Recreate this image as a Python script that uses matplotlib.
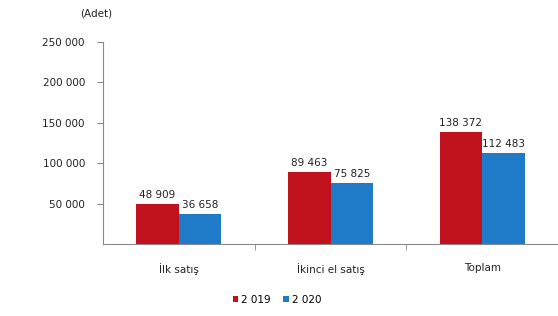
import numpy as np
import matplotlib.pyplot as plt
from matplotlib.ticker import FuncFormatter
from matplotlib.transforms import offset_copy

# Data
categories = ['İlk satış', 'İkinci el satış', 'Toplam']
years = ['2 019', '2 020']
sales_2019 = [48909, 89463, 138372]
sales_2020 = [36658, 75825, 112483]
yticks = [50000, 100000, 150000, 200000, 250000]

red = '#C0121C'
blue = '#1F7BC8'

W, H = 558, 316
fig = plt.figure(figsize=(W/100, H/100), dpi=100)
ax = fig.add_axes([103/W, 1 - 244/H, (W-103)/W, (244-42)/H])

x = np.arange(len(categories))
w = 0.28
b1 = ax.bar(x - w/2, sales_2019, w, color=red, label=years[0])
b2 = ax.bar(x + w/2, sales_2020, w, color=blue, label=years[1])

def fmt(v):
    return f'{int(v):,}'.replace(',', ' ')

lab_tr = offset_copy(ax.transData, fig=fig, x=0, y=3, units='points')
for bars, vals in [(b1, sales_2019), (b2, sales_2020)]:
    for r, v in zip(bars, vals):
        ax.text(r.get_x() + r.get_width()/2, v, fmt(v), transform=lab_tr,
                ha='center', va='bottom', fontsize=7.5, color='#222222')

ax.set_ylim(0, 250000)
ax.set_yticks(yticks)
ax.yaxis.set_major_formatter(FuncFormatter(lambda v, p: fmt(v)))
ax.set_xlim(-0.5, 2.5)
ax.set_xticks(x)
ax.set_xticklabels(categories)
ax.set_xticks([0.5, 1.5], minor=True)
ax.tick_params(axis='x', which='major', length=0, pad=14, labelsize=7.5, colors='#222222')
ax.tick_params(axis='x', which='minor', length=4, direction='out', color='#888888')
ax.tick_params(axis='y', length=4, direction='out', labelsize=7.5, colors='#222222', color='#888888', pad=9)

for s in ['top', 'right']:
    ax.spines[s].set_visible(False)
ax.spines['left'].set_color('#888888')
ax.spines['bottom'].set_color('#888888')

fig.text(96/W, 1 - 13/H, '(Adet)', fontsize=7.5, ha='center', va='center', color='#222222')

fig.legend(handles=[b1, b2], labels=years, loc='center', bbox_to_anchor=(277/W, 1 - 300/H),
           ncol=2, frameon=False, fontsize=7.5, handlelength=0.5, handleheight=0.5,
           handletextpad=0.3, columnspacing=1.2)

fig.savefig('out.png', dpi=100)
